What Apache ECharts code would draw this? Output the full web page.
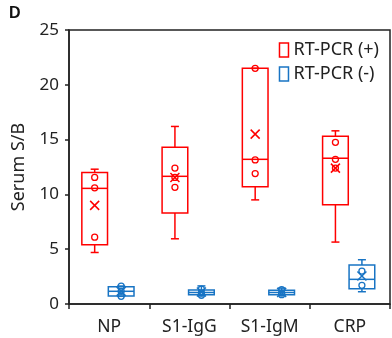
<!DOCTYPE html>
<html><head><meta charset="utf-8">
<script src="https://cdn.jsdelivr.net/npm/echarts@6/dist/echarts.min.js"></script>
<style>html,body{margin:0;padding:0;background:#fff}#c{width:392px;height:338px}</style>
</head><body><div id="c"></div>
<script>
const categories = ['NP', 'S1-IgG', 'S1-IgM', 'CRP'];
// [min, Q1, median, Q3, max, mean]
const posStats = [
  [4.7, 5.4, 10.55, 12.0, 12.3, 9.0],
  [5.95, 8.3, 11.65, 14.3, 16.2, 11.55],
  [9.5, 10.7, 13.2, 21.5, 21.5, 15.5],
  [5.65, 9.05, 13.3, 15.3, 15.8, 12.4]
];
const posPoints = [
  [11.55, 10.6, 6.1],
  [12.4, 11.55, 10.65],
  [21.5, 13.15, 11.9],
  [14.75, 13.2, 12.4]
];
const negStats = [
  [0.7, 0.73, 1.16, 1.58, 1.64, 1.15],
  [0.75, 0.85, 1.05, 1.27, 1.65, 1.1],
  [0.8, 0.85, 1.05, 1.25, 1.45, 1.05],
  [1.12, 1.4, 2.25, 3.56, 4.04, 2.55]
];
const negPoints = [
  [1.64, 1.16, 0.7],
  [1.35, 1.0, 0.8],
  [1.3, 1.0, 0.85],
  [3.0, 1.7]
];
const yTicks = [0, 5, 10, 15, 20, 25];
const RED = '#ff0000', BLUE = '#1874c4';

function makeRender(points, offset, color) {
  return function (params, api) {
    const i = api.value(0);
    const v = [1, 2, 3, 4, 5, 6].map(k => api.value(k));
    const band = api.size([1, 0])[0];
    const cx = api.coord([i, 0])[0] + offset * band;
    const y = val => api.coord([i, val])[1];
    const hw = 0.16 * band, cap = 4;
    const st = { stroke: color, lineWidth: 1.5, fill: null };
    const line = (x1, y1, x2, y2) => ({ type: 'line', shape: { x1, y1, x2, y2 }, style: st });
    const ch = [];
    ch.push(line(cx, y(v[4]), cx, y(v[3])));
    ch.push(line(cx, y(v[1]), cx, y(v[0])));
    ch.push(line(cx - cap, y(v[4]), cx + cap, y(v[4])));
    ch.push(line(cx - cap, y(v[0]), cx + cap, y(v[0])));
    ch.push({ type: 'rect', shape: { x: cx - hw, y: y(v[3]), width: 2 * hw, height: y(v[1]) - y(v[3]) }, style: st });
    ch.push(line(cx - hw, y(v[2]), cx + hw, y(v[2])));
    const m = y(v[5]), s = 4.5;
    ch.push(line(cx - s, m - s, cx + s, m + s));
    ch.push(line(cx - s, m + s, cx + s, m - s));
    (points[i] || []).forEach(p => {
      ch.push({ type: 'circle', shape: { cx: cx, cy: y(p), r: 3 }, style: { stroke: color, lineWidth: 1.3, fill: null } });
    });
    return { type: 'group', children: ch };
  };
}

const chart = echarts.init(document.getElementById('c'));
chart.setOption({
  animation: false,
  textStyle: { fontFamily: 'Noto Sans' },
  grid: { left: 69, right: 2, top: 30, bottom: 34, show: true, borderColor: '#222', borderWidth: 1.5, backgroundColor: 'transparent' },
  graphic: [{ type: 'text', left: 9, top: 6, style: { text: 'D', font: 'bold 16px "Liberation Sans", Arial', fill: '#111' } }],
  legend: {
    right: 8, top: 38, orient: 'vertical', itemWidth: 9, itemHeight: 14, itemGap: 0, padding: [0, 5, 0, 5],
    textStyle: { fontSize: 18, color: '#222', fontFamily: 'Noto Sans', lineHeight: 24 },
    data: [
      { name: 'RT-PCR (+)', icon: 'rect', itemStyle: { color: 'transparent', borderColor: RED, borderWidth: 1.5 } },
      { name: 'RT-PCR (-)', icon: 'rect', itemStyle: { color: 'transparent', borderColor: BLUE, borderWidth: 1.5 } }
    ]
  },
  xAxis: {
    type: 'category', data: categories, boundaryGap: true,
    axisLine: { lineStyle: { color: '#222', width: 1.5 } },
    axisTick: { show: true, length: 5, lineStyle: { color: '#222', width: 1.5 } },
    axisLabel: { fontSize: 17.5, color: '#222', margin: 14 }
  },
  yAxis: {
    type: 'value', min: 0, max: 25, interval: 5,
    name: 'Serum S/B', nameLocation: 'middle', nameGap: 41,
    nameTextStyle: { fontSize: 18, color: '#222' },
    splitLine: { show: false },
    axisLine: { show: true, lineStyle: { color: '#222', width: 1.5 } },
    axisTick: { show: true, length: 4, lineStyle: { color: '#222', width: 1.5 } },
    axisLabel: { fontSize: 17, color: '#222', margin: 10, formatter: v => yTicks.includes(v) ? String(v) : '' }
  },
  series: [
    { name: 'RT-PCR (+)', type: 'custom', itemStyle: { color: RED }, renderItem: makeRender(posPoints, -0.18, RED),
      data: posStats.map((s, i) => [i].concat(s)), encode: { x: 0, y: [1, 5] } },
    { name: 'RT-PCR (-)', type: 'custom', itemStyle: { color: BLUE }, renderItem: makeRender(negPoints, 0.15, BLUE),
      data: negStats.map((s, i) => [i].concat(s)), encode: { x: 0, y: [1, 5] } }
  ]
});
</script></body></html>
